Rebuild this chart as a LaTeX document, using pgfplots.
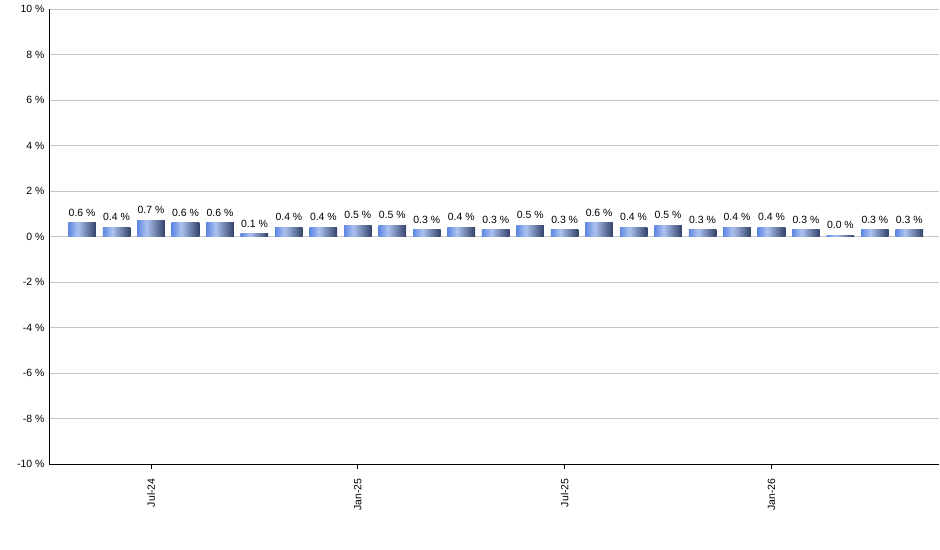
\documentclass[border=0pt]{standalone}
\usepackage{pgfplots}
\pgfplotsset{compat=1.18}
\usepackage{fontspec}
\setmainfont{Liberation Sans}

% bar shading: mid blue -> light -> dark navy (left to right)
\definecolor{barL}{RGB}{95,135,225}
\definecolor{barM}{RGB}{172,194,240}
\definecolor{barR}{RGB}{50,65,105}
\pgfdeclarehorizontalshading{barshade}{100bp}{%
  color(0bp)=(barL); color(25bp)=(barL); color(42bp)=(barM);
  color(75bp)=(barR); color(100bp)=(barR)}

% one plot per bar, so each bar gets its own shading
\pgfplotsset{onebar/.style={draw=none, shade, shading=barshade, bar shift=0pt}}

\begin{document}
\begin{tikzpicture}
\path[use as bounding box] (0,0) rectangle (940bp,550bp);
\begin{axis}[
    at={(49bp,86bp)}, anchor=south west,
    width=890bp, height=455bp, scale only axis,
    font=\fontsize{10.5}{12}\selectfont,
    ymin=-10, ymax=10,
    ytick={-10,-8,...,10},
    yticklabel={\pgfmathprintnumber{\tick}~\%},
    yticklabel shift=-4bp,
    xmin=-0.96, xmax=24.86,
    xtick={2,8,14,20},
    xticklabels={Jul-24,Jan-25,Jul-25,Jan-26},
    xticklabel style={rotate=90, anchor=east},
    xticklabel shift=6bp,
    /pgf/number format/assume math mode=true,
    axis x line*=bottom, axis y line*=left,
    axis line style={black, line width=1bp},
    ymajorgrids=true,
    grid style={gray!45, line width=0.8bp},
    ytick style={draw=none},
    xtick style={black, line width=0.8bp},
    tick align=outside,
    major tick length=5bp,
    ybar, bar width=0.8,
    nodes near coords={\pgfmathprintnumber[fixed,zerofill,precision=1]{\pgfplotspointmeta}~\%},
    every node near coord/.append style={font=\fontsize{10.5}{12}\selectfont, black, yshift=3bp},
]
\addplot[onebar] coordinates {(0,0.6)};
\addplot[onebar] coordinates {(1,0.4)};
\addplot[onebar] coordinates {(2,0.7)};
\addplot[onebar] coordinates {(3,0.6)};
\addplot[onebar] coordinates {(4,0.6)};
\addplot[onebar] coordinates {(5,0.12)};
\addplot[onebar] coordinates {(6,0.4)};
\addplot[onebar] coordinates {(7,0.4)};
\addplot[onebar] coordinates {(8,0.5)};
\addplot[onebar] coordinates {(9,0.5)};
\addplot[onebar] coordinates {(10,0.3)};
\addplot[onebar] coordinates {(11,0.4)};
\addplot[onebar] coordinates {(12,0.3)};
\addplot[onebar] coordinates {(13,0.5)};
\addplot[onebar] coordinates {(14,0.3)};
\addplot[onebar] coordinates {(15,0.6)};
\addplot[onebar] coordinates {(16,0.4)};
\addplot[onebar] coordinates {(17,0.5)};
\addplot[onebar] coordinates {(18,0.3)};
\addplot[onebar] coordinates {(19,0.4)};
\addplot[onebar] coordinates {(20,0.4)};
\addplot[onebar] coordinates {(21,0.3)};
\addplot[onebar] coordinates {(22,0.04)};
\addplot[onebar] coordinates {(23,0.3)};
\addplot[onebar] coordinates {(24,0.3)};
\end{axis}
\end{tikzpicture}
\end{document}
